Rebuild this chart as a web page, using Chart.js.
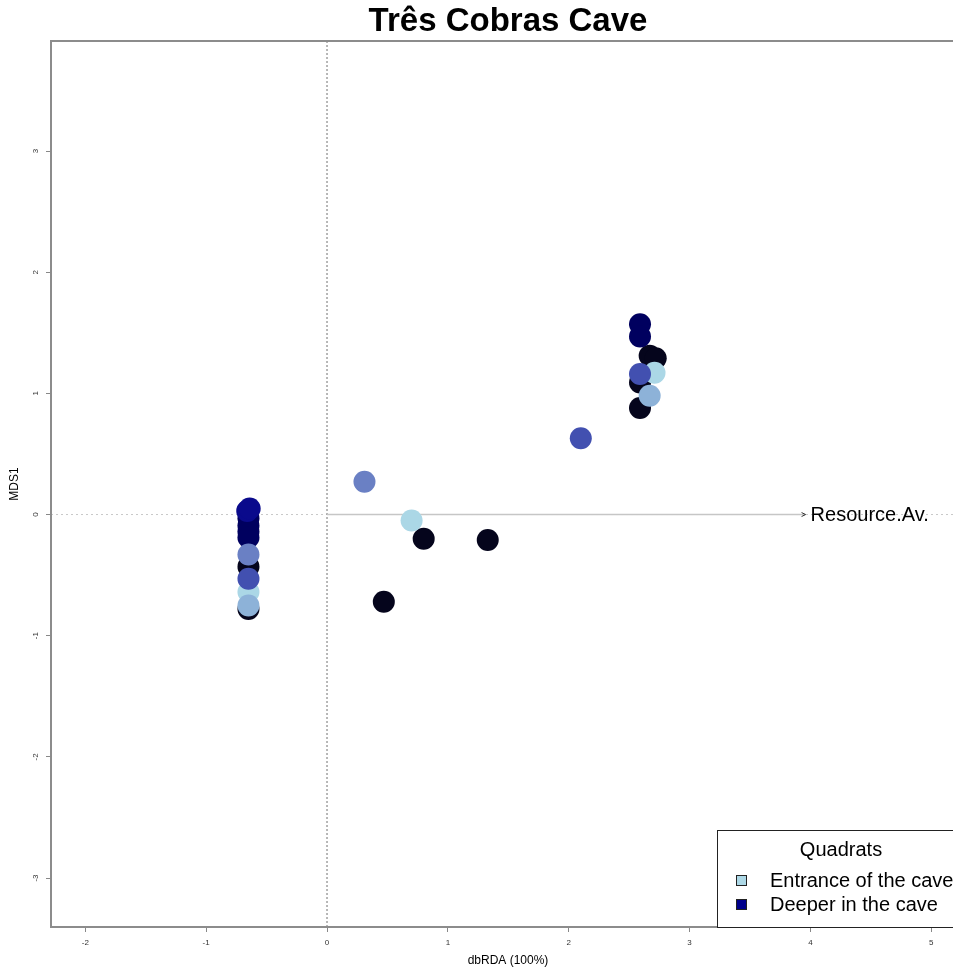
<!DOCTYPE html>
<html>
<head>
<meta charset="utf-8">
<title>Três Cobras Cave</title>
<script src="https://cdn.jsdelivr.net/npm/chart.js@4.4.1/dist/chart.umd.min.js"></script>
<style>
  html, body { margin: 0; padding: 0; background: #fff; overflow: hidden; }
</style>
</head>
<body>
<canvas id="chart" width="953" height="968"></canvas>
<script>
const FONT = '"Liberation Sans", Arial, sans-serif';

// axes
const xTicks = [-2, -1, 0, 1, 2, 3, 4, 5];
const yTicks = [-3, -2, -1, 0, 1, 2, 3];
const xRange = [-2.284, 5.18];
const yRange = [-3.404, 3.908];

// site scores, grouped by the colour each quadrat has in the plot
const blackX = [-0.65, -0.65, 2.67, 2.72, 2.59, 2.59, 0.80, 1.33, 0.47];
const blackY = [-0.43, -0.78, 1.31, 1.29, 1.09, 0.88, -0.20, -0.21, -0.72];
const navyX = [-0.65, -0.65, -0.65, -0.65, 2.59, 2.59];
const navyY = [-0.03, -0.09, -0.14, -0.19, 1.57, 1.47];
const darkBlueX = [-0.66, -0.64];
const darkBlueY = [0.03, 0.05];
const lightBlueX = [-0.65, 2.71, 0.70];
const lightBlueY = [-0.64, 1.17, -0.05];
const mediumX = [-0.65, 0.31];
const mediumY = [-0.33, 0.27];
const royalX = [-0.65, 2.59, 2.10];
const royalY = [-0.53, 1.16, 0.63];
const steelX = [-0.65, 2.67];
const steelY = [-0.75, 0.98];

// environmental vector
const arrowX = [0, 3.96];
const arrowY = [0, 0];
const arrowLabel = 'Resource.Av.';

const chartTitle = 'Três Cobras Cave';
const legendTitle = 'Quadrats';
const legendLabels = ['Entrance of the cave', 'Deeper in the cave'];
const legendColors = ['#add8e6', '#00008b'];

function pts(xs, ys) {
  return xs.map((x, i) => ({ x: x, y: ys[i] }));
}

function siteSet(xs, ys, color, order) {
  return {
    data: pts(xs, ys),
    backgroundColor: color,
    borderWidth: 0,
    pointRadius: 11,
    order: order
  };
}

function lineSet(data, color, width, dash, order) {
  return {
    data: data,
    showLine: true,
    borderColor: color,
    borderWidth: width,
    borderDash: dash,
    pointRadius: 0,
    order: order
  };
}

// title, frame, arrow head + label, legend box and axis titles
const extras = {
  id: 'extras',
  afterDraw(chart) {
    const { ctx, chartArea: a, scales: { x, y } } = chart;
    const midX = 508;
    ctx.save();

    ctx.fillStyle = '#000';
    ctx.font = 'bold 33px ' + FONT;
    ctx.textAlign = 'center';
    ctx.textBaseline = 'middle';
    ctx.fillText(chartTitle, midX, 22);

    // plot frame (right edge falls outside the window)
    ctx.strokeStyle = '#8c8c8c';
    ctx.lineWidth = 2;
    ctx.strokeRect(a.left, a.top, a.right - a.left + 20, a.bottom - a.top);

    // arrow head and label
    const tipX = x.getPixelForValue(arrowX[1]);
    const tipY = y.getPixelForValue(arrowY[1]);
    ctx.strokeStyle = '#333';
    ctx.lineWidth = 1;
    ctx.beginPath();
    ctx.moveTo(tipX - 4, tipY - 2);
    ctx.lineTo(tipX, tipY);
    ctx.lineTo(tipX - 4, tipY + 2);
    ctx.stroke();
    ctx.fillStyle = '#000';
    ctx.font = '20px ' + FONT;
    ctx.textAlign = 'left';
    ctx.fillText(arrowLabel, tipX + 5, tipY + 1);

    // legend
    const lx = a.right - 236;
    const ly = a.bottom - 97;
    ctx.fillStyle = '#fff';
    ctx.fillRect(lx, ly, 260, 97);
    ctx.strokeStyle = '#222';
    ctx.lineWidth = 1;
    ctx.strokeRect(lx + 0.5, ly + 0.5, 260, 97);
    ctx.fillStyle = '#000';
    ctx.textAlign = 'center';
    ctx.fillText(legendTitle, lx + 124, ly + 20);
    ctx.textAlign = 'left';
    legendLabels.forEach((lab, i) => {
      const ry = ly + 50 + i * 24;
      ctx.fillStyle = legendColors[i];
      ctx.fillRect(lx + 19, ry - 5, 11, 11);
      ctx.strokeStyle = '#222';
      ctx.strokeRect(lx + 19.5, ry - 4.5, 10, 10);
      ctx.fillStyle = '#000';
      ctx.fillText(lab, lx + 53, ry + 1);
    });

    // axis titles
    ctx.font = '12px ' + FONT;
    ctx.textAlign = 'center';
    ctx.fillText('dbRDA (100%)', midX, 961);
    ctx.translate(15, (a.top + a.bottom) / 2);
    ctx.rotate(-Math.PI / 2);
    ctx.fillText('MDS1', 0, 0);
    ctx.restore();
  }
};

new Chart(document.getElementById('chart'), {
  type: 'scatter',
  data: {
    datasets: [
      siteSet(steelX, steelY, '#8db2d8', 1),
      siteSet(royalX, royalY, '#4250b0', 2),
      siteSet(mediumX, mediumY, '#6a80c4', 3),
      siteSet(lightBlueX, lightBlueY, '#abd7e6', 4),
      siteSet(darkBlueX, darkBlueY, '#0a0a8c', 5),
      siteSet(navyX, navyY, '#00005f', 6),
      siteSet(blackX, blackY, '#05051c', 7),
      lineSet(pts(arrowX, arrowY), '#c6c6c6', 1.5, [], 8),
      lineSet([{ x: 0, y: yRange[0] }, { x: 0, y: yRange[1] }], '#a0a0a0', 1.5, [2, 2], 9),
      lineSet([{ x: xRange[0], y: 0 }, { x: xRange[1], y: 0 }], '#c8c8c8', 1, [2, 3], 10)
    ]
  },
  options: {
    responsive: false,
    animation: false,
    events: [],
    layout: { autoPadding: false, padding: { top: 41, left: 0, right: 0, bottom: 0 } },
    plugins: {
      legend: { display: false },
      tooltip: { enabled: false },
      title: { display: false }
    },
    scales: {
      x: {
        type: 'linear',
        min: xRange[0],
        max: xRange[1],
        afterBuildTicks: s => { s.ticks = xTicks.map(v => ({ value: v })); },
        afterFit: s => { s.height = 41; s.paddingLeft = 0; s.paddingRight = 0; },
        border: { display: false },
        grid: { drawOnChartArea: false, drawTicks: true, tickLength: 5, tickColor: '#888' },
        ticks: {
          autoSkip: false,
          maxRotation: 0,
          padding: 6,
          color: '#333',
          font: { family: FONT, size: 8 },
          callback: v => String(v)
        }
      },
      y: {
        type: 'linear',
        min: yRange[0],
        max: yRange[1],
        afterBuildTicks: s => { s.ticks = yTicks.map(v => ({ value: v })); },
        afterFit: s => { s.width = 51; s.paddingTop = 0; s.paddingBottom = 0; },
        border: { display: false },
        grid: { drawOnChartArea: false, drawTicks: true, tickLength: 5, tickColor: '#888' },
        ticks: {
          autoSkip: false,
          minRotation: 90,
          maxRotation: 90,
          crossAlign: 'center',
          padding: 7,
          color: '#333',
          font: { family: FONT, size: 8 },
          callback: v => String(v)
        }
      }
    }
  },
  plugins: [extras]
});
</script>
</body>
</html>
